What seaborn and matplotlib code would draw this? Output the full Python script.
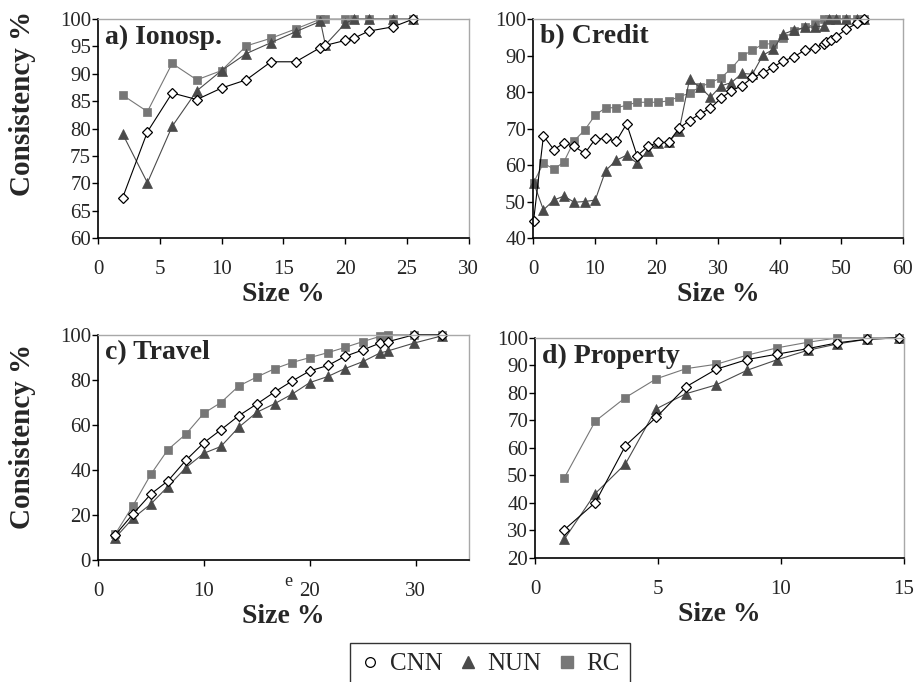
import matplotlib
matplotlib.use("Agg")
import matplotlib.pyplot as plt
import seaborn as sns
from matplotlib.lines import Line2D

# a) Ionosp.
a_x = [2.0, 4.0, 6.0, 8.0, 10.0, 12.0, 14.0, 16.0, 18.0, 18.4, 20.0, 20.7, 21.9, 23.9, 25.5]
a_cnn = [67.4, 79.4, 86.5, 85.3, 87.4, 88.9, 92.2, 92.2, 94.8, 95.2, 96.1, 96.5, 97.8, 98.6, 100]
a_cnn_x = [2.0, 4.0, 6.0, 8.0, 10.0, 12.0, 14.0, 16.0, 18.0, 18.4, 20.0, 20.7, 21.9, 23.9, 25.5]
a_nun = [79.0, 70.1, 80.4, 86.9, 90.6, 93.7, 95.7, 97.7, 99.6, 95.3, 99.2, 100, 100, 100, 100]
a_rc = [86.1, 83.1, 91.9, 88.9, 90.6, 95.1, 96.5, 98.2, 100, 100, 100, 100, 100, 100, 100]

# b) Credit
b_x = [0.1, 1.7, 3.4, 5.0, 6.7, 8.4, 10.1, 11.8, 13.5, 15.2, 16.9, 18.6, 20.3, 22.0,
       23.7, 25.4, 27.1, 28.8, 30.5, 32.2, 33.9, 35.6, 37.3, 39.0, 40.6, 42.4, 44.1,
       45.8, 47.2, 48.1, 49.2, 50.8, 52.5, 53.7]
b_cnn_x = [0.1, 1.7, 3.4, 5.0, 6.7, 8.4, 10.1, 11.8, 13.5, 15.2, 16.9, 18.6, 20.3, 22.0,
           23.7, 25.4, 27.1, 28.8, 30.5, 32.2, 33.9, 35.6, 37.3, 39.0, 40.6, 42.4, 44.1,
           45.8, 47.2, 47.6, 48.4, 49.2, 50.8, 52.5, 53.7]
b_cnn = [44.7, 68.0, 64.2, 66.0, 65.1, 63.2, 67.1, 67.3, 66.5, 71.3, 62.5, 65.1, 66.2, 66.2,
         70.1, 72.2, 74.0, 75.6, 78.3, 80.4, 81.7, 84.0, 85.2, 86.9, 88.5, 89.7, 91.5,
         92.1, 93.3, 93.6, 94.4, 95.2, 97.2, 98.8, 100]
b_nun = [55.2, 47.7, 50.4, 51.5, 49.8, 50.0, 50.4, 58.5, 61.3, 62.7, 60.5, 63.9, 66.0, 66.3,
         69.4, 83.5, 81.3, 78.6, 81.7, 82.6, 85.1, 84.9, 90.1, 91.7, 95.9, 97.0, 97.7,
         97.9, 98.1, 100, 100, 100, 100, 100]
b_rc = [55.2, 60.5, 58.9, 60.8, 66.7, 69.6, 73.7, 75.7, 75.7, 76.4, 77.2, 77.2, 77.2, 77.6,
        78.7, 79.7, 81.4, 82.6, 83.9, 86.5, 89.8, 91.5, 93.1, 93.3, 94.7, 96.7, 97.7,
        98.6, 100, 100, 100, 100, 100, 100]

# c) Travel
c_x = [1.64, 3.3, 5.0, 6.6, 8.3, 10.0, 11.6, 13.3, 15.0, 16.7, 18.3, 20.0, 21.7, 23.3,
       25.0, 26.6, 27.4, 29.8, 32.5]
c_cnn = [11.1, 20.4, 29.3, 35.1, 44.3, 52.1, 57.8, 64.1, 69.3, 74.7, 79.4, 84.0, 86.4, 90.4,
         93.3, 96.3, 97.0, 100, 100]
c_nun = [9.9, 18.5, 24.9, 32.6, 41.0, 47.4, 50.4, 59.0, 65.6, 69.5, 73.6, 78.8, 81.5, 85.0,
         88.1, 91.9, 92.9, 96.3, 99.6]
c_rc = [11.6, 24.1, 38.1, 49.0, 55.9, 65.2, 69.9, 77.3, 81.3, 85.0, 87.7, 89.9, 92.1, 94.4,
        97.0, 99.3, 100, 100, 100]

# d) Property
d_x = [1.2, 2.45, 3.68, 4.93, 6.14, 7.37, 8.62, 9.86, 11.1, 12.3, 13.5, 14.8]
d_cnn = [30.3, 40.1, 60.8, 71.1, 82.2, 88.6, 92.1, 94.1, 96.1, 98.2, 99.5, 100]
d_nun = [26.9, 43.4, 54.2, 74.2, 79.7, 82.9, 88.2, 92.1, 95.5, 97.8, 99.5, 100]
d_rc = [49.2, 69.7, 78.3, 85.1, 88.8, 90.4, 93.7, 96.4, 98.4, 100, 100, 100]

methods = ["CNN", "NUN", "RC"]
styles = {
    "CNN": dict(color="black", marker="D", mfc="white", mec="black", ms=4.8, mew=0.9),
    "NUN": dict(color="#4a4a4a", marker="^", mfc="#4a4a4a", mec="#4a4a4a", ms=6.5, mew=0.5),
    "RC": dict(color="#777777", marker="s", mfc="#777777", mec="#777777", ms=5.5, mew=0.5),
}

sns.set_theme(style="white")
plt.rcParams["font.family"] = ["Liberation Serif", "DejaVu Serif"]

fig = plt.figure(figsize=(9.2, 6.82), dpi=100)

panels = [
    ("a) Ionosp.", [0.1065, 0.651, 0.403, 0.321], {"CNN": (a_cnn_x, a_cnn), "NUN": (a_x, a_nun), "RC": (a_x, a_rc)},
     (0, 30, 5), (60, 100, 5), 0.616),
    ("b) Credit", [0.5793, 0.651, 0.402, 0.321], {"CNN": (b_cnn_x, b_cnn), "NUN": (b_x, b_nun), "RC": (b_x, b_rc)},
     (0, 60, 10), (40, 100, 10), None),
    ("c) Travel", [0.1065, 0.179, 0.403, 0.330], {"CNN": (c_x, c_cnn), "NUN": (c_x, c_nun), "RC": (c_x, c_rc)},
     (0, 35, 10), (0, 100, 20), 0.547),
    ("d) Property", [0.5815, 0.182, 0.401, 0.3226], {"CNN": (d_x, d_cnn), "NUN": (d_x, d_nun), "RC": (d_x, d_rc)},
     (0, 15, 5), (20, 100, 10), None),
]

for title, pos, series, xr, yr, label_y in panels:
    ax = fig.add_axes(pos)
    for m in ["RC", "NUN", "CNN"]:
        xs, ys = series[m]
        st = styles[m]
        sns.lineplot(x=xs, y=ys, ax=ax, estimator=None, sort=False, color=st["color"],
                     marker=st["marker"], markerfacecolor=st["mfc"], markeredgecolor=st["mec"],
                     markersize=st["ms"], markeredgewidth=st["mew"], linewidth=0.8, clip_on=False)
    ax.set_xlim(xr[0], xr[1])
    ax.set_ylim(yr[0], yr[1])
    ax.set_xticks(list(range(xr[0], xr[1] + 1 if xr[1] % xr[2] == 0 else xr[1], xr[2])))
    ax.set_yticks(list(range(yr[0], yr[1] + 1, yr[2])))
    for s in ["left", "bottom"]:
        ax.spines[s].set_color("black")
        ax.spines[s].set_linewidth(1.2)
    for s in ["top", "right"]:
        ax.spines[s].set_color("#a8a8a8")
        ax.spines[s].set_linewidth(1.0)
    ax.tick_params(axis="both", direction="out", length=4, width=1, color="black",
                   labelsize=15, left=True, bottom=True)
    ax.tick_params(axis="x", pad=12)
    ax.tick_params(axis="y", pad=1)
    ax.set_xlabel("Size %", fontsize=20, fontweight="bold", labelpad=2)
    if label_y is not None:
        ax.set_ylabel("Consistency %", fontsize=21, fontweight="bold")
        ax.yaxis.set_label_coords(-0.168, label_y)
    else:
        ax.set_ylabel("")
    ax.text(0.018, 0.975, title, transform=ax.transAxes, ha="left", va="top",
            fontsize=20, fontweight="bold")

fig.text(288 / 920, 1 - 582 / 682, "e", fontsize=13, ha="center", va="center")

handles = [
    Line2D([], [], linestyle="none", marker="o", mfc="white", mec="black", ms=7, mew=0.9),
    Line2D([], [], linestyle="none", marker="^", mfc="#4a4a4a", mec="#4a4a4a", ms=9),
    Line2D([], [], linestyle="none", marker="s", mfc="#777777", mec="#777777", ms=8),
]
leg = fig.legend(handles, methods, loc="upper left", bbox_to_anchor=(350 / 920, 1 - 643 / 682),
                 ncol=3, fontsize=18, frameon=True, fancybox=False, handlelength=0.8,
                 handletextpad=0.4, columnspacing=0.6, borderpad=0.4, borderaxespad=0)
leg.get_frame().set_edgecolor("black")
leg.get_frame().set_linewidth(1.0)

fig.savefig("out.png", dpi=100)
